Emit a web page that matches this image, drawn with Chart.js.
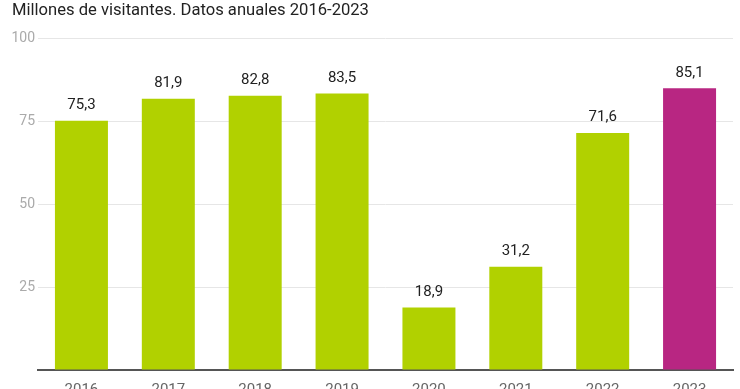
<!DOCTYPE html>
<html>
<head>
<meta charset="utf-8">
<script src="https://cdn.jsdelivr.net/npm/chart.js@4"></script>
<style>
  html, body { margin: 0; padding: 0; background: #fff; overflow: hidden; }
  #wrap { width: 740px; height: 407px; }
</style>
</head>
<body>
<div id="wrap"><canvas id="chart"></canvas></div>
<script>
// Millones de visitantes por año
const years = ["2016", "2017", "2018", "2019", "2020", "2021", "2022", "2023"];
const visitors = [75.3, 81.9, 82.8, 83.5, 18.9, 31.2, 71.6, 85.1];
const yTicks = [0, 25, 50, 75, 100];

const GREEN = "#b1d100";
const MAGENTA = "#b82682";

// simple value labels above each bar (no datalabels plugin available)
const valueLabels = {
  id: "valueLabels",
  afterDatasetsDraw(chart) {
    const ctx = chart.ctx;
    const meta = chart.getDatasetMeta(0);
    ctx.save();
    ctx.font = "15px Roboto";
    ctx.fillStyle = "#222";
    ctx.textAlign = "center";
    ctx.textBaseline = "bottom";
    meta.data.forEach((bar, i) => {
      const txt = visitors[i].toFixed(1).replace(".", ",");
      ctx.fillText(txt, bar.x, bar.y - 8);
    });
    ctx.restore();
  },
};

new Chart(document.getElementById("chart"), {
  type: "bar",
  data: {
    labels: years,
    datasets: [
      {
        data: visitors,
        backgroundColor: years.map((y) => (y === "2023" ? MAGENTA : GREEN)),
        borderWidth: 0,
        barPercentage: 0.61,
        categoryPercentage: 1,
      },
    ],
  },
  options: {
    responsive: true,
    maintainAspectRatio: false,
    animation: false,
    layout: { padding: { left: 12, right: 7, top: 0, bottom: 5 } },
    plugins: {
      legend: { display: false },
      tooltip: { enabled: false },
      title: {
        display: true,
        text: "Millones de visitantes. Datos anuales 2016-2023",
        align: "start",
        color: "#222",
        font: { family: "Roboto", size: 16.6, weight: "normal" },
        padding: { top: 1, bottom: 18 },
      },
    },
    scales: {
      x: {
        grid: { display: false },
        border: { display: true, color: "#555", width: 2 },
        ticks: { color: "#666", font: { family: "Roboto", size: 15 }, padding: 3 },
      },
      y: {
        min: 0,
        max: 100,
        afterBuildTicks: (axis) => {
          axis.ticks = yTicks.map((v) => ({ value: v }));
        },
        afterFit: (axis) => {
          axis.width = 26;
        },
        grid: { color: "#e6e6e6", drawTicks: false },
        border: { display: false },
        ticks: {
          color: "#aaa",
          font: { family: "Roboto", size: 14 },
          padding: 3,
          callback: (v) => (v === 0 ? "" : v),
        },
      },
    },
  },
  plugins: [valueLabels],
});
</script>
</body>
</html>
